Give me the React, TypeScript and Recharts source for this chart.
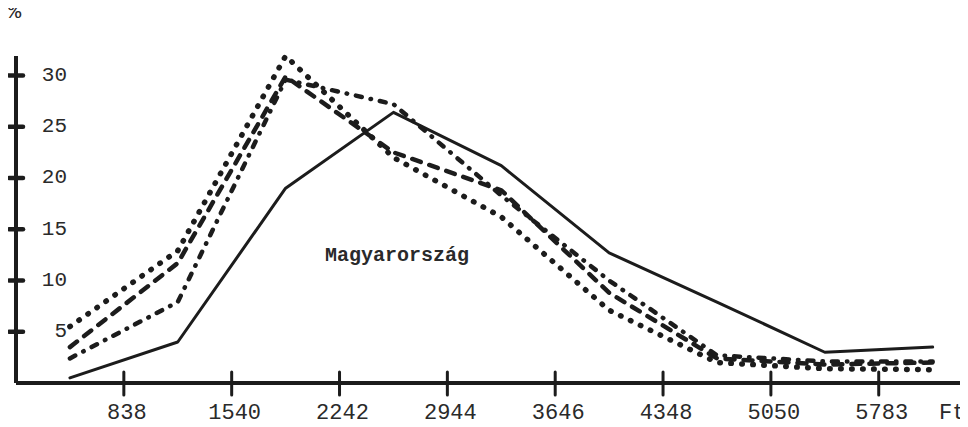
import React from 'react';
import { LineChart, Line, XAxis, YAxis } from 'recharts';

// Income classes (Ft); tick labels mark the class boundaries
const classes = ['–838', '838–1540', '1540–2242', '2242–2944', '2944–3646', '3646–4348', '4348–5050', '5050–5783', '5783–'];
const xBoundaryLabels = ['838', '1540', '2242', '2944', '3646', '4348', '5050', '5783'];
const yTickValues = [5, 10, 15, 20, 25, 30];
const yTickLabels = ['5', '10', '15', '20', '25', '30'];

// Percentages per class (%)
const solidSeries = [0.5, 4.0, 19.0, 26.4, 21.2, 12.7, 7.9, 3.0, 3.5];
const dottedSeries = [5.5, 12.9, 31.9, 22.0, 16.2, 7.1, 2.0, 1.4, 1.3];
const dashedSeries = [3.5, 11.7, 29.9, 22.5, 18.8, 8.8, 2.4, 1.8, 2.0];
const dashDotSeries = [2.4, 7.9, 29.6, 27.2, 18.3, 10.0, 2.7, 2.1, 2.1];

const data = classes.map((c, i) => ({
  cls: c,
  pos: i + 0.5,
  solid: solidSeries[i],
  dotted: dottedSeries[i],
  dashed: dashedSeries[i],
  dashDot: dashDotSeries[i],
}));

const INK = '#1c1c1c';
const FONT = '"Liberation Mono", "Courier New", monospace';

const XTick = (props: any) => {
  const { x, y, payload } = props;
  const label = xBoundaryLabels[Math.round(payload.value) - 1];
  return (
    <g>
      <line x1={x} x2={x} y1={y - 11} y2={y + 12} stroke={INK} strokeWidth={3} strokeLinecap="round" />
      <text x={x + 3} y={y + 36} textAnchor="middle" fontFamily={FONT} fontSize={22} fill="#2a2a2a">
        {label}
      </text>
    </g>
  );
};

const YTick = (props: any) => {
  const { x, y, payload } = props;
  const idx = yTickValues.indexOf(payload.value);
  return (
    <g>
      <line x1={x - 7} x2={x + 7} y1={y} y2={y} stroke={INK} strokeWidth={4.5} strokeLinecap="round" />
      <text x={x + 51} y={y} textAnchor="end" dominantBaseline="central" fontFamily={FONT} fontSize={21} fill="#2a2a2a">
        {yTickLabels[idx]}
      </text>
    </g>
  );
};

export default function App() {
  return (
    <div style={{ position: 'relative', width: 960, height: 419, background: '#ffffff' }}>
      <LineChart width={960} height={419} data={data} margin={{ top: 48, right: 3, bottom: 0, left: 6 }}>
        <XAxis
          dataKey="pos"
          type="number"
          domain={[0, 8.8]}
          ticks={xBoundaryLabels.map((_, i) => i + 1)}
          interval={0}
          tick={<XTick />}
          tickLine={false}
          tickSize={0}
          tickMargin={0}
          height={44}
          axisLine={{ stroke: INK, strokeWidth: 4 }}
        />
        <YAxis
          type="number"
          domain={[0, 30]}
          ticks={yTickValues}
          interval={0}
          tick={<YTick />}
          tickLine={false}
          tickSize={0}
          tickMargin={0}
          width={2}
          axisLine={{ stroke: INK, strokeWidth: 4 }}
        />
        <Line
          type="linear"
          dataKey="solid"
          stroke={INK}
          strokeWidth={3}
          strokeLinejoin="round"
          strokeLinecap="round"
          dot={false}
          isAnimationActive={false}
        />
        <Line
          type="linear"
          dataKey="dotted"
          stroke={INK}
          strokeWidth={5.5}
          strokeDasharray="0.5 10.5"
          strokeLinecap="round"
          strokeLinejoin="round"
          dot={false}
          isAnimationActive={false}
        />
        <Line
          type="linear"
          dataKey="dashed"
          stroke={INK}
          strokeWidth={4.5}
          strokeDasharray="9 9"
          strokeLinecap="round"
          strokeLinejoin="round"
          dot={false}
          isAnimationActive={false}
        />
        <Line
          type="linear"
          dataKey="dashDot"
          stroke={INK}
          strokeWidth={4.5}
          strokeDasharray="6 9 0.5 9"
          strokeLinecap="round"
          strokeLinejoin="round"
          dot={false}
          isAnimationActive={false}
        />
      </LineChart>
      <div style={{ position: 'absolute', left: 0, top: -6, fontFamily: FONT, fontSize: 22, lineHeight: '22px', color: '#2a2a2a' }}>%</div>
      <div style={{ position: 'absolute', left: 931, top: 395, fontFamily: FONT, fontSize: 22, lineHeight: '22px', color: '#2a2a2a' }}>Ft</div>
      <div style={{ position: 'absolute', left: 317, top: 238, fontFamily: FONT, fontSize: 20, lineHeight: '20px', fontWeight: 'bold', color: '#2a2a2a' }}>Magyarország</div>
    </div>
  );
}
